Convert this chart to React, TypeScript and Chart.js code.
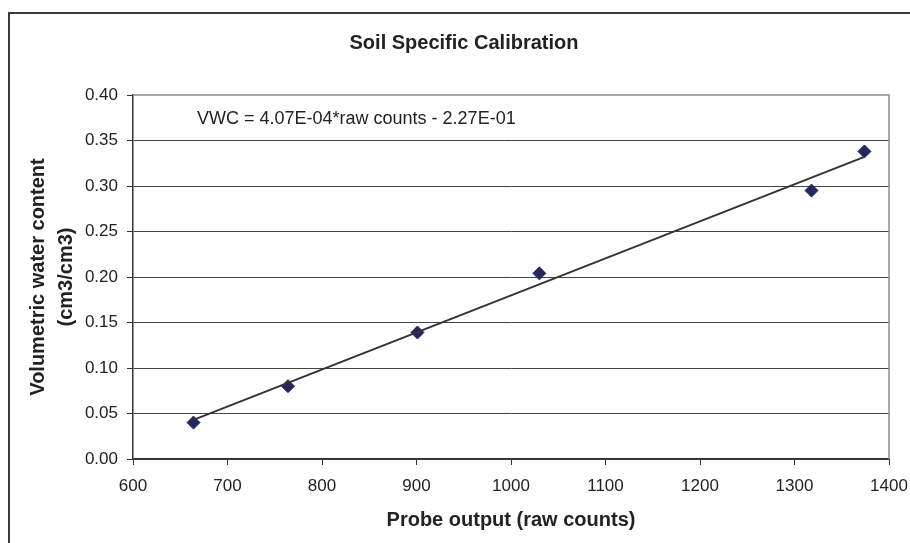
import React, { useEffect, useRef } from "react";
import { Chart, registerables } from "chart.js";

Chart.register(...registerables);

// ---- data ----
const rawCounts = [664, 764, 901, 1030, 1318, 1374];
const vwc = [0.04, 0.08, 0.139, 0.204, 0.295, 0.338];
const trendX = [664, 1374];
const trendY = [0.043, 0.332];

const xMin = 600;
const xMax = 1400;
const xStep = 100;
const yMin = 0;
const yMax = 0.4;
const yStep = 0.05;

const titleText = "Soil Specific Calibration";
const equationText = "VWC = 4.07E-04*raw counts - 2.27E-01";
const xTitle = "Probe output (raw counts)";
const yTitle = ["Volumetric water content", "(cm3/cm3)"];

const FAMILY = '"Liberation Sans", Arial, Helvetica, sans-serif';
const TEXT = "#222222";
const W = 912;
const H = 540;

const framePlugin = {
  id: "frameAndEquation",
  beforeDraw(chart: any) {
    const { ctx } = chart;
    ctx.save();
    ctx.fillStyle = "#ffffff";
    ctx.fillRect(0, 0, chart.width, chart.height);
    ctx.restore();
  },
  afterDraw(chart: any) {
    const { ctx, chartArea } = chart;
    const { left, right, top, bottom } = chartArea;
    ctx.save();
    // outer chart border
    ctx.strokeStyle = "#3a3a3a";
    ctx.lineWidth = 2;
    ctx.strokeRect(1, 1, chart.width - 2, chart.height - 2);
    // plot area frame (top & right)
    ctx.strokeStyle = "#8c8c8c";
    ctx.lineWidth = 1.5;
    ctx.beginPath();
    ctx.moveTo(left, top);
    ctx.lineTo(right, top);
    ctx.lineTo(right, bottom);
    ctx.stroke();
    // trendline equation
    ctx.fillStyle = TEXT;
    ctx.font = `18px ${FAMILY}`;
    ctx.textAlign = "left";
    ctx.textBaseline = "middle";
    ctx.fillText(equationText, left + 64, top + 24);
    ctx.restore();
  },
};

export default function App() {
  const ref = useRef<HTMLCanvasElement | null>(null);

  useEffect(() => {
    if (!ref.current) return;
    const chart = new Chart(ref.current, {
      type: "scatter",
      data: {
        datasets: [
          {
            label: "Trend",
            data: trendX.map((x, i) => ({ x, y: trendY[i] })),
            showLine: true,
            borderColor: "#333333",
            borderWidth: 2,
            pointRadius: 0,
            fill: false,
          },
          {
            label: "Calibration",
            data: rawCounts.map((x, i) => ({ x, y: vwc[i] })),
            showLine: false,
            pointStyle: "rectRot",
            pointRadius: 6.5,
            pointBackgroundColor: "#25285f",
            pointBorderColor: "#25285f",
            pointBorderWidth: 1,
          },
        ],
      },
      options: {
        responsive: false,
        animation: false,
        devicePixelRatio: 1,
        layout: { padding: 0 },
        plugins: {
          legend: { display: false },
          tooltip: { enabled: false },
          title: {
            display: true,
            text: titleText,
            color: TEXT,
            font: { family: FAMILY, size: 20, weight: "bold", lineHeight: 1.2 },
            padding: { top: 19, bottom: 40 },
          },
        },
        scales: {
          x: {
            type: "linear",
            position: "bottom",
            min: xMin,
            max: xMax,
            ticks: {
              stepSize: xStep,
              color: TEXT,
              font: { family: FAMILY, size: 17 },
              padding: 11,
              maxRotation: 0,
              autoSkip: false,
              callback: (v: any) => String(Math.round(Number(v))),
            },
            grid: {
              drawOnChartArea: false,
              drawTicks: true,
              tickLength: 6,
              tickColor: "#333333",
              color: "#333333",
            },
            border: { display: true, color: "#333333", width: 1.5 },
            title: {
              display: true,
              text: xTitle,
              color: TEXT,
              font: { family: FAMILY, size: 20, weight: "bold", lineHeight: 1.2 },
              padding: { top: 0, bottom: 20 },
            },
            afterFit: (s: any) => {
              s.height = 93;
            },
          },
          y: {
            type: "linear",
            position: "left",
            min: yMin,
            max: yMax,
            ticks: {
              stepSize: yStep,
              color: TEXT,
              font: { family: FAMILY, size: 17 },
              padding: 9,
              callback: (v: any) => Number(v).toFixed(2),
            },
            grid: {
              color: (c: any) =>
                c.tick && c.tick.value >= yMax - 1e-9 ? "rgba(0,0,0,0)" : "#444444",
              lineWidth: 1,
              tickLength: 6,
              tickColor: "#333333",
            },
            border: { display: true, color: "#333333", width: 1.5 },
            title: {
              display: true,
              text: yTitle,
              color: TEXT,
              font: { family: FAMILY, size: 20, weight: "bold", lineHeight: 1.4 },
              padding: { top: 16, bottom: 0 },
            },
            afterFit: (s: any) => {
              s.width = 125;
            },
          },
          y2: {
            type: "linear",
            position: "right",
            display: true,
            ticks: { display: false },
            grid: { display: false },
            border: { display: false },
            afterFit: (s: any) => {
              s.width = 31;
            },
          },
        },
      },
      plugins: [framePlugin],
    } as any);
    return () => chart.destroy();
  }, []);

  return (
    <div
      style={{
        position: "fixed",
        left: 8,
        top: 0,
        width: 902,
        height: 543,
        overflow: "hidden",
      }}
    >
      <canvas
        ref={ref}
        width={W}
        height={H}
        style={{ position: "absolute", left: 0, top: 12, display: "block", width: W, height: H }}
      />
    </div>
  );
}
